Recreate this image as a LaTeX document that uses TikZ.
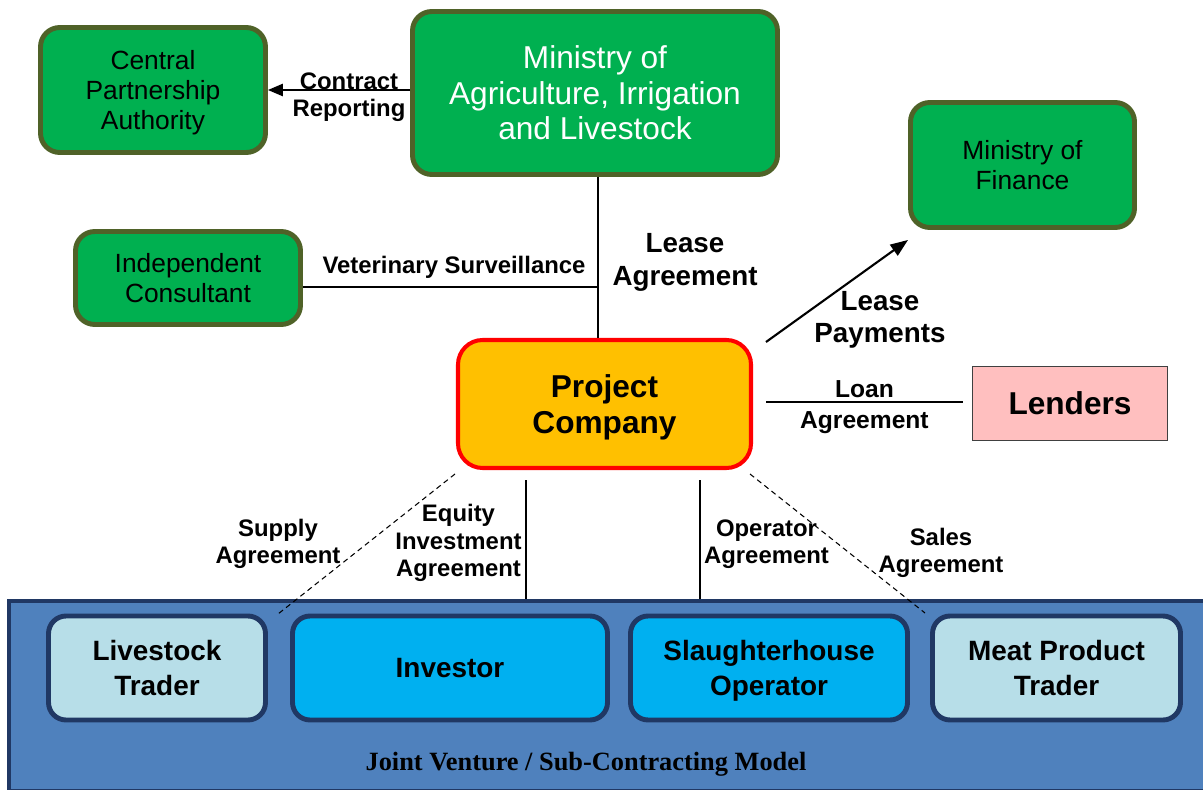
\documentclass[tikz,border=0pt]{standalone}
\usepackage{fontspec}
\setmainfont{Liberation Sans}
\newfontfamily\jvserif{Liberation Serif}
\usetikzlibrary{arrows.meta}

\definecolor{govgreen}{HTML}{00B050}
\definecolor{govedge}{HTML}{4F6228}
\definecolor{projfill}{HTML}{FFC000}
\definecolor{lendfill}{HTML}{FFBFBF}
\definecolor{jvfill}{HTML}{4F81BD}
\definecolor{jvedge}{HTML}{203864}
\definecolor{palebox}{HTML}{B7DEE8}
\definecolor{cyanbox}{HTML}{00B0F0}

\tikzset{
  govbox/.style={draw=govedge, fill=govgreen, line width=2.8pt,
    rounded corners=11pt, align=center, inner sep=0pt, text depth=0pt,
    font=\fontsize{15}{17}\selectfont},
  partybox/.style={draw=jvedge, line width=2.8pt, rounded corners=10pt,
    align=center, inner sep=0pt, text depth=0pt, minimum height=104*0.02cm,
    font=\bfseries\fontsize{15.9}{19.8}\selectfont},
  lbl/.style={align=center, inner sep=0pt, text depth=0pt,
    font=\bfseries\fontsize{13.6}{15.5}\selectfont},
  biglbl/.style={align=center, inner sep=0pt, text depth=0pt,
    font=\bfseries\fontsize{15.8}{18.5}\selectfont},
  link/.style={line width=0.7pt},
  dashlink/.style={line width=0.6pt, dash pattern=on 3pt off 2.2pt},
}

\begin{document}
\begin{tikzpicture}[x=0.02cm, y=-0.02cm]
  \useasboundingbox (0,0) rectangle (1203,790);

  % government side
  \node[govbox, minimum width=225*0.02cm, minimum height=125*0.02cm]
    (cpa) at (153,90) {Central\\Partnership\\Authority};
  \node[govbox, minimum width=365*0.02cm, minimum height=163*0.02cm,
    text=white, font=\fontsize{18}{20.2}\selectfont]
    (mail) at (595,93) {Ministry of\\Agriculture, Irrigation\\and Livestock};
  \node[govbox, minimum width=224*0.02cm, minimum height=125*0.02cm]
    (mof) at (1022.5,165) {Ministry of\\Finance};
  \node[govbox, minimum width=225*0.02cm, minimum height=93*0.02cm]
    (cons) at (188,278) {Independent\\Consultant};

  % project company and lenders
  \node[draw=red, fill=projfill, line width=2.3pt, rounded corners=14pt,
    minimum width=293*0.02cm, minimum height=128*0.02cm, align=center,
    inner sep=0pt, text depth=0pt, font=\bfseries\fontsize{18}{21}\selectfont]
    (proj) at (604.5,404) {Project\\Company};
  \node[draw=black!75, fill=lendfill, line width=0.8pt,
    minimum width=195*0.02cm, minimum height=74*0.02cm, inner sep=0pt,
    font=\bfseries\fontsize{18}{21}\selectfont]
    (lend) at (1070,403.5) {Lenders};

  % joint venture band
  \node[draw=jvedge, fill=jvfill, line width=1.8pt, inner sep=0pt,
    minimum width=1196*0.02cm, minimum height=190*0.02cm]
    (jv) at (607,696) {};
  \node[inner sep=0pt, text depth=0pt, font=\jvserif\bfseries\fontsize{15}{17}\selectfont]
    (jvname) at (586,761) {Joint Venture / Sub-Contracting Model};
  \node[partybox, fill=palebox, minimum width=217*0.02cm]
    (ltrade) at (157,668) {Livestock\\Trader};
  \node[partybox, fill=cyanbox, minimum width=315*0.02cm]
    (inv) at (450,668) {Investor};
  \node[partybox, fill=cyanbox, minimum width=277*0.02cm]
    (slop) at (769,668) {Slaughterhouse\\Operator};
  \node[partybox, fill=palebox, minimum width=248*0.02cm]
    (mtrade) at (1056.5,668) {Meat Product\\Trader};

  % free ends of the connectors
  \coordinate (vx) at (598,0);
  \coordinate (vet) at (598,287);
  \coordinate (payA) at (766,342);
  \coordinate (payB) at (908,240);
  \coordinate (loanY) at (0,402);
  \coordinate (supA) at (455,474);
  \coordinate (supB) at (278,614);
  \coordinate (eqA) at (526,480);
  \coordinate (opA) at (700,480);
  \coordinate (salA) at (750,474);
  \coordinate (salB) at (925,613);

  % connectors
  \draw[line width=0.9pt, -{Triangle[length=8.5pt,width=7pt]}]
    (mail.west |- cpa.east) -- (cpa.east);
  \draw[link] (vx |- mail.south) -- (vx |- proj.north);
  \draw[link] (cons.east |- vet) -- (vet);
  \draw[line width=1.2pt, -{Triangle[length=10pt,width=7.5pt]}] (payA) -- (payB);
  \draw[link] ([xshift=7.4pt]proj.east |- loanY) -- ([xshift=-5.1pt]lend.west |- loanY)
    node[pos=0.5, above=2pt, font=\bfseries\fontsize{14}{16}\selectfont, inner sep=0pt] (loanA) {Loan}
    node[pos=0.5, below=5pt, font=\bfseries\fontsize{14}{16}\selectfont, inner sep=0pt] (loanB) {Agreement};
  \draw[dashlink] (supA) -- (supB);
  \draw[link] (eqA) -- (eqA |- jv.north);
  \draw[link] (opA) -- (opA |- jv.north);
  \draw[dashlink] (salA) -- (salB);

  % labels
  \node[lbl] (crep) at (349,95) {Contract\\Reporting};
  \node[lbl] (vsurv) at (454,265) {Veterinary Surveillance};
  \node[biglbl] (lagr) at (685,259.5) {Lease\\Agreement};
  \node[biglbl] (lpay) at (880,317) {Lease\\Payments};
  \node[lbl] (supl) at (278,541) {Supply\\Agreement};
  \node[lbl] (eql) at (458.5,540.5) {Equity\\Investment\\Agreement};
  \node[lbl] (opl) at (766.5,542) {Operator\\Agreement};
  \node[lbl] (sall) at (941,550) {Sales\\Agreement};
\end{tikzpicture}
\end{document}
